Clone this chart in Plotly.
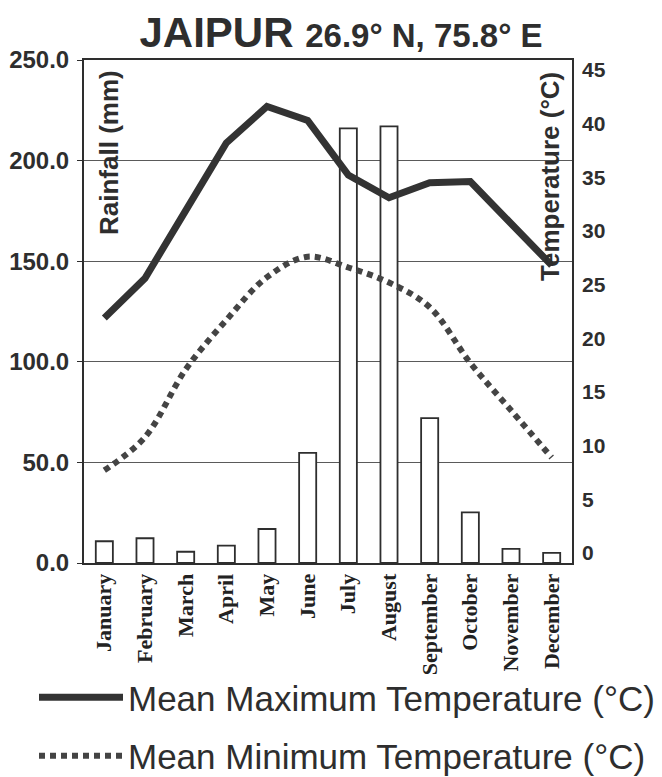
import plotly.graph_objects as go

months = ["January", "February", "March", "April", "May", "June", "July",
          "August", "September", "October", "November", "December"]
rainfall_mm = [10.8, 12.3, 5.6, 8.6, 16.9, 54.7, 216, 217, 72, 25.2, 7, 5]
max_temp_c = [21.9, 25.6, 31.9, 38.2, 41.6, 40.3, 35.2, 33.1, 34.5, 34.6, 30.7, 26.8]
min_temp_c = [7.7, 10.8, 17.1, 21.7, 25.7, 27.6, 26.6, 25.2, 22.9, 17.7, 13.3, 8.9]
rain_ticks = [0, 50, 100, 150, 200, 250]
temp_ticks = [0, 5, 10, 15, 20, 25, 30, 35, 40, 45]

INK = "#2e2e2e"
SANS = "Liberation Sans, Arial, sans-serif"
# page has an 8px body margin, so layout positions are offset by -8
OFF = 8
fig = go.Figure()

fig.add_trace(go.Bar(
    x=months, y=rainfall_mm, width=0.42,
    marker=dict(color="white", line=dict(color=INK, width=1.8)),
    showlegend=False, yaxis="y"))

fig.add_trace(go.Scatter(
    x=months, y=max_temp_c, mode="lines", yaxis="y2",
    line=dict(color="#333333", width=7),
    name="Mean Maximum Temperature (°C)", legendgroup="a"))

fig.add_trace(go.Scatter(
    x=months, y=min_temp_c, mode="lines", yaxis="y2", line_shape="spline",
    line=dict(color="#444444", width=6, dash="6px,5px"),
    name="Mean Minimum Temperature (°C)", legendgroup="b"))

W, H = 662, 777
fig.update_layout(
    width=W, height=H,
    margin=dict(l=84 - OFF, r=W - (572 - OFF), t=60 - OFF, b=H - (563 - OFF),
                autoexpand=False),
    paper_bgcolor="white", plot_bgcolor="white",
    font=dict(family=SANS, color=INK),
    title=dict(
        text="<b>JAIPUR</b> <b><span style='font-size:33px'>26.9° N, 75.8° E</span></b>",
        font=dict(size=42, color=INK, family=SANS),
        x=(341 - OFF) / W, xanchor="center", xref="container",
        y=1 - (32 - OFF) / H, yanchor="middle", yref="container"),
    xaxis=dict(
        type="category", range=[-0.5, 11.5], tickangle=-90,
        tickfont=dict(family="Liberation Serif, Times New Roman, serif", size=22, color="#222"),
        ticktext=[f"<b>{m}</b>" for m in months], tickvals=months,
        showline=True, mirror=True, linecolor=INK, linewidth=2,
        ticks="", showgrid=False, automargin=False),
    yaxis=dict(
        range=[0, 250], tickvals=rain_ticks,
        ticktext=[f"<b>{v:.1f}</b>" for v in rain_ticks],
        tickfont=dict(size=24, color=INK, family=SANS), ticklabelstandoff=3,
        showline=True, mirror=True, linecolor=INK, linewidth=2,
        ticks="outside", ticklen=5, tickcolor=INK, automargin=False,
        showgrid=True, gridcolor="#5a5a5a", gridwidth=1.4, zeroline=False),
    yaxis2=dict(
        range=[-0.93, 45.93], tickvals=temp_ticks,
        ticktext=[f"<b>{v}</b>" for v in temp_ticks],
        overlaying="y", side="right",
        tickfont=dict(size=21, color=INK, family=SANS), ticklabelstandoff=9,
        showline=False, ticks="", showgrid=False, zeroline=False, automargin=False),
    legend=dict(
        xref="container", yref="container",
        x=(34 - OFF) / W, xanchor="left", y=1 - (668 - OFF) / H, yanchor="top",
        font=dict(size=35, color=INK, family=SANS), tracegroupgap=10,
        itemwidth=84, bgcolor="rgba(0,0,0,0)"),
)

fig.add_annotation(text="<b>Rainfall (mm)</b>", xref="paper", yref="paper",
                   x=(109 - 84) / 488, y=(563 - 153) / 503,
                   xanchor="center", yanchor="middle",
                   textangle=-90, showarrow=False,
                   font=dict(size=26, color=INK, family=SANS))
fig.add_annotation(text="<b>Temperature (°C)</b>", xref="paper", yref="paper",
                   x=(550 - 84) / 488, y=(563 - 177) / 503,
                   xanchor="center", yanchor="middle",
                   textangle=-90, showarrow=False,
                   font=dict(size=26, color=INK, family=SANS))

fig.write_html("out.html")
